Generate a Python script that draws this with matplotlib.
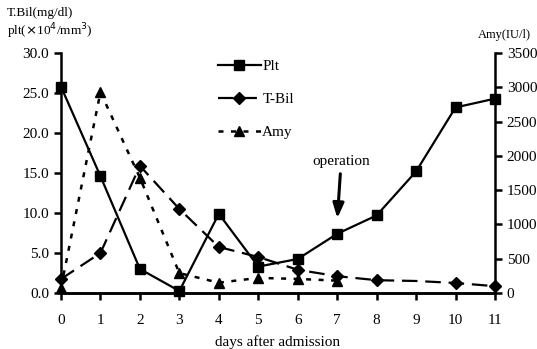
import numpy as np
import matplotlib
matplotlib.use('Agg')
import matplotlib.pyplot as plt

plt.rcParams['font.family'] = ['Liberation Serif', 'DejaVu Serif']

#----------------------
days = list(range(12))
plt_vals = [25.8, 14.6, 3.0, 0.25, 9.9, 3.3, 4.25, 7.4, 9.7, 15.2, 23.2, 24.3]
tbil_vals = [1.75, 5.0, 15.9, 10.5, 5.75, 4.5, 2.9, 2.1, 1.6, 1.5, 1.25, 0.85]
amy_days = list(range(8))
amy_vals = [80, 2930, 1680, 290, 150, 220, 205, 180]

left_ticks = [0, 5, 10, 15, 20, 25, 30]
right_ticks = [0, 500, 1000, 1500, 2000, 2500, 3000, 3500]
#----------------------

fig = plt.figure(figsize=(5.37, 3.49), dpi=100)
ax = fig.add_axes([0.1136, 0.1605, 0.8082, 0.6875])
ax2 = ax.twinx()

ax.plot(days, plt_vals, color='black', lw=1.6, marker='s', ms=7, label='Plt', clip_on=False, zorder=4)
ax.plot(days, tbil_vals, color='black', lw=1.6, marker='D', ms=6, dashes=(7, 3.5),
        markevery=[0, 1, 2, 3, 4, 5, 6, 7, 8, 10, 11], label='T-Bil', clip_on=False, zorder=4)
ax2.plot(amy_days, amy_vals, color='black', lw=1.8, marker='^', ms=7.5, dashes=(2, 3),
         label='Amy', clip_on=False, zorder=4)

ax.set_xlim(0, 11)
ax.set_ylim(0, 30)
ax2.set_ylim(0, 3500)
ax.set_xticks(days)
ax.set_yticks(left_ticks)
ax.set_yticklabels(['%.1f' % v for v in left_ticks])
ax2.set_yticks(right_ticks)

for a in (ax, ax2):
    a.spines['top'].set_visible(False)
    for s in a.spines.values():
        s.set_linewidth(1.8)
    a.tick_params(direction='out', length=5, width=1.8, labelsize=11)
ax.spines['right'].set_visible(False)
ax2.spines['left'].set_visible(False)
ax.tick_params(axis='x', pad=10)

ax.set_xlabel('days after admission', fontsize=11, labelpad=6)

fig.text(0.013, 0.963, 'T.Bil(mg/dl)', fontsize=9.5, va='center')
fig.text(0.013, 0.912, r'plt($\times$10$^4$/mm$^3$)', fontsize=9.5, va='center')
fig.text(0.89, 0.9, 'Amy(IU/l)', fontsize=9, va='center')

ax.annotate('operation', xy=(7, 9.0), xytext=(7.1, 15.6), ha='center', va='bottom', fontsize=11,
            arrowprops=dict(arrowstyle='-|>,head_width=0.3,head_length=0.8', color='black', lw=2.2))

h1, l1 = ax.get_legend_handles_labels()
h2, l2 = ax2.get_legend_handles_labels()
leg = ax.legend(h1 + h2, l1 + l2, loc='upper left', bbox_to_anchor=(0.33, 1.03), frameon=False,
                fontsize=11, labelspacing=1.25, handlelength=2.8, handletextpad=0.1)

fig.savefig('out.png', dpi=100)
